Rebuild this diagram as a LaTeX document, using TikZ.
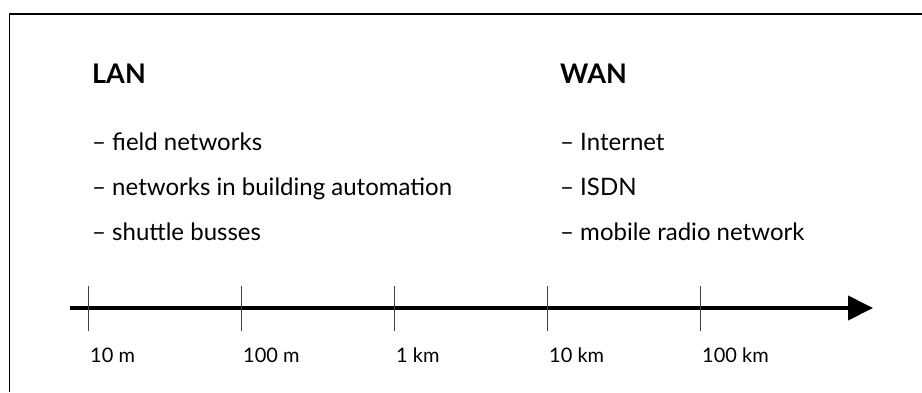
\documentclass[tikz,border=0pt]{standalone}
\usepackage{fontspec}
\setmainfont{Lato}
\usetikzlibrary{arrows.meta, positioning}
\tikzset{
	heading/.style={anchor=base west, inner sep=0pt, font=\fontsize{27}{32}\selectfont\bfseries},
	item/.style={anchor=base west, inner sep=0pt, font=\fontsize{24}{29}\selectfont},
	tickmark/.style={line width=0.8pt, black!75},
	distlabel/.style={anchor=base west, inner sep=0pt, font=\fontsize{20}{24}\selectfont},
}

\begin{document}
\begin{tikzpicture}[x=1pt, y=-1pt]
				\useasboundingbox (0,0) rectangle (922,392);
				% Frame (top and left edge)
				\draw[line width=1.5pt] (922,14) -- (9.5,14) -- (9.5,392);

				% LAN column
				\node[heading] (lan) at (92,83) {LAN};
				\node[item] (lanA) at (92,150) {– field networks};
				\node[item] (lanB) at (92,195) {– networks in building automation};
				\node[item] (lanC) at (92,240) {– shuttle busses};

				% WAN column
				\node[heading] (wan) at (560,83) {WAN};
				\node[item] (wanA) at (560,150) {– Internet};
				\node[item] (wanB) at (560,195) {– ISDN};
				\node[item] (wanC) at (560,240) {– mobile radio network};

				% Distance axis
				\coordinate (axstart) at (70,308);
				\coordinate (axend) at (873,308);
				\draw[line width=4pt, -{Triangle[length=25pt, width=24pt]}] (axstart) -- (axend);
				\foreach \x/\dist [count=\i] in {88/10 m, 241/100 m, 394/1 km, 547/10 km, 700/100 km} {
					\draw[tickmark] (\x,286) -- (\x,331);
					\node[distlabel] (dist\i) at (\x+2,362) {\dist};
				}
\end{tikzpicture}
\end{document}
